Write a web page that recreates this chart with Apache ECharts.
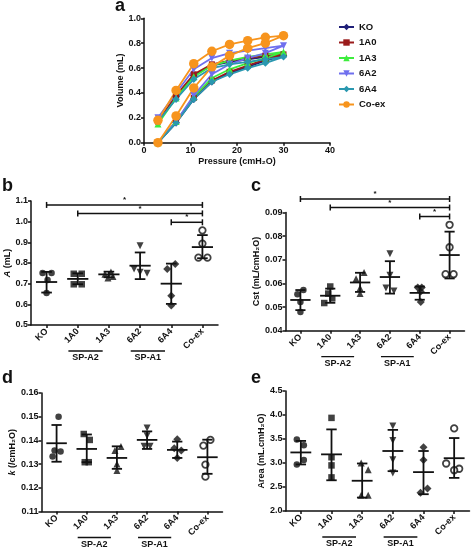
<!DOCTYPE html>
<html><head><meta charset="utf-8">
<script src="https://cdn.jsdelivr.net/npm/echarts@6/dist/echarts.min.js"></script>
<style>html,body{margin:0;padding:0;background:#fff}#c{width:472px;height:554px}</style>
</head><body><div id="c"></div>
<script>
// ---------- Panel a: pressure-volume loops ----------
const pressure = [3, 6.9, 10.7, 14.6, 18.4, 22.3, 26.1, 30];
const groupNames = ['KO', '1A0', '1A3', '6A2', '6A4', 'Co-ex'];
const inflKO  = [0, 0.16, 0.35, 0.49, 0.56, 0.61, 0.66, 0.70];
const deflKO  = [0.17, 0.37, 0.54, 0.62, 0.65, 0.67, 0.69, 0.70];
const infl1A0 = [0, 0.17, 0.36, 0.50, 0.57, 0.62, 0.67, 0.71];
const defl1A0 = [0.17, 0.38, 0.55, 0.63, 0.66, 0.68, 0.70, 0.71];
const infl1A3 = [0, 0.17, 0.37, 0.52, 0.59, 0.64, 0.68, 0.73];
const defl1A3 = [0.15, 0.36, 0.53, 0.62, 0.66, 0.69, 0.71, 0.73];
const infl6A2 = [0, 0.17, 0.38, 0.55, 0.63, 0.68, 0.72, 0.78];
const defl6A2 = [0.20, 0.40, 0.59, 0.68, 0.72, 0.74, 0.76, 0.78];
const infl6A4 = [0, 0.16, 0.35, 0.49, 0.55, 0.60, 0.64, 0.69];
const defl6A4 = [0.17, 0.35, 0.51, 0.60, 0.63, 0.65, 0.67, 0.69];
const inflCoex = [0, 0.215, 0.44, 0.61, 0.70, 0.76, 0.80, 0.86];
const deflCoex = [0.18, 0.42, 0.635, 0.735, 0.79, 0.82, 0.847, 0.86];
const xTicksA = [0, 10, 20, 30, 40];

// ---------- Panel b: A (mL) ----------
const bPoints = [[0.752,0.752,0.718,0.655],[0.748,0.748,0.697,0.697],[0.757,0.745,0.735,0.728],[0.884,0.771,0.755,0.75],[0.795,0.771,0.642,0.594],[0.958,0.894,0.826,0.826]];
const bMean = [0.708, 0.723, 0.745, 0.787, 0.700, 0.877];
const bLow  = [0.657, 0.697, 0.731, 0.722, 0.602, 0.823];
const bHigh = [0.757, 0.750, 0.758, 0.851, 0.797, 0.935];
const bSig  = [[0,5,1.081],[1,5,1.040],[4,5,0.997]];
// ---------- Panel c: Cst ----------
const cPoints = [[0.0572,0.0554,0.0521,0.0479],[0.0587,0.0557,0.0537,0.0517],[0.0646,0.0620,0.0581,0.0557],[0.0726,0.0635,0.0581,0.0568],[0.0583,0.0583,0.0566,0.0521],[0.0848,0.0753,0.0639,0.0639]];
const cMean = [0.0530, 0.0548, 0.0604, 0.0627, 0.0560, 0.0720];
const cLow  = [0.0487, 0.0518, 0.0564, 0.0557, 0.0531, 0.0621];
const cHigh = [0.0572, 0.0578, 0.0645, 0.0694, 0.0587, 0.0819];
const cSig  = [[0,5,0.0957],[1,5,0.0921],[4,5,0.0883]];
// ---------- Panel d: k ----------
const dPoints = [[0.1500,0.1357,0.1353,0.1332],[0.1427,0.1402,0.1308,0.1308],[0.1374,0.1357,0.1300,0.1273],[0.1452,0.1420,0.1375,0.1375],[0.1405,0.1367,0.1357,0.1326],[0.1402,0.1378,0.1298,0.1247]];
const dMean = [0.1388, 0.1364, 0.1326, 0.1402, 0.1360, 0.1329];
const dLow  = [0.1310, 0.1308, 0.1280, 0.1364, 0.1326, 0.1259];
const dHigh = [0.1465, 0.1425, 0.1375, 0.1438, 0.1395, 0.1403];
// ---------- Panel e: Area ----------
const ePoints = [[3.49,3.37,3.06,2.97],[3.94,3.12,2.95,2.70],[3.00,2.86,2.33,2.33],[3.77,3.47,3.07,2.79],[3.33,3.06,2.47,2.38],[3.72,2.99,2.88,2.85]];
const eMean = [3.22, 3.18, 2.63, 3.25, 2.81, 3.10];
const eLow  = [2.97, 2.64, 2.28, 2.83, 2.35, 2.69];
const eHigh = [3.46, 3.70, 2.99, 3.69, 3.25, 3.52];
const subGroups = [[1,2,'SP-A2'],[3,4,'SP-A1']];

// ---------- styles (kept apart from data) ----------
const FONT = '"Liberation Sans", Arial, sans-serif';
const INK = '#111';
const pvStyle = [
  {color:'#1f1f78', symbol:'diamond', size:7.5, rot:0},
  {color:'#9a1b1b', symbol:'rect', size:6, rot:0},
  {color:'#3ded3d', symbol:'triangle', size:7, rot:0},
  {color:'#6f6fee', symbol:'triangle', size:7, rot:180},
  {color:'#2a98b0', symbol:'diamond', size:7.5, rot:0},
  {color:'#f7941d', symbol:'circle', size:9.5, rot:0}
];
const dotStyle = [
  {symbol:'circle', size:6.5, rot:0},
  {symbol:'rect', size:6.5, rot:0},
  {symbol:'triangle', size:7, rot:0},
  {symbol:'triangle', size:7, rot:180},
  {symbol:'diamond', size:8, rot:0},
  {symbol:'circle', size:6.5, rot:0, open:true}
];
const jitB = [[-4,5,1,0],[-4,4,-4,4],[2,-4,4,-1],[0,-6,0,7],[4,-4,0,0],[0,0,-4,5]];
const jitC = [[3,-3,0,0],[0,-2,2,-6],[4,-4,0,0],[0,0,-4,4],[-2,2,1,1],[0,0,-4,4]];
const jitD = [[2,-2,4,-4],[-3,3,-2,2],[4,-2,0,0],[0,0,-3,3],[0,-3,4,0],[3,-4,-2,-2]];
const jitE = [[-4,3,3,-4],[0,0,0,0],[-1,6,-1,6],[0,0,0,0],[0,0,4,-3],[0,-8,5,0]];

const loops = [[inflKO,deflKO],[infl1A0,defl1A0],[infl1A3,defl1A3],[infl6A2,defl6A2],[infl6A4,defl6A4],[inflCoex,deflCoex]];

const axisCommon = {
  axisLine: {show:true, lineStyle:{color:INK, width:1.5}},
  axisTick: {show:true, length:3, inside:false, lineStyle:{color:INK, width:1.5}},
  splitLine: {show:false},
  axisLabel: {color:INK, fontSize:9, fontWeight:'bold', fontFamily:FONT, margin:3},
  nameTextStyle: {color:INK, fontSize:9, fontWeight:'bold', fontFamily:FONT}
};
function merge(a, b){ return Object.assign({}, JSON.parse(JSON.stringify(a)), b); }

const grids = [
  {left:144, top:18.3, width:186, height:124.4},
  {left:31, top:201, width:187, height:124},
  {left:285.5, top:212.5, width:179, height:118.2},
  {left:41.5, top:393, width:181, height:118.5},
  {left:285.5, top:391, width:184, height:120}
];

const xAxes = [
  merge(axisCommon, {type:'value', gridIndex:0, min:xTicksA[0], max:xTicksA[xTicksA.length-1], interval:10,
    name:'Pressure (cmH\u2082O)', nameLocation:'middle', nameGap:14})
];
const yAxes = [
  merge(axisCommon, {type:'value', gridIndex:0, min:0, max:1, interval:0.2,
    name:'Volume (mL)', nameLocation:'middle', nameGap:17,
    axisLabel:Object.assign({}, axisCommon.axisLabel, {formatter:v=>v.toFixed(1)})})
];
const catLabel = Object.assign({}, axisCommon.axisLabel, {rotate:45, interval:0, margin:5});
const yCfg = [
  {min:0.5, max:1.1, interval:0.1, dec:1, name:'{i|A} (mL)', gap:16},
  {min:0.04, max:0.09, interval:0.01, dec:2, name:'Cst (mL/cmH\u2082O)', gap:19},
  {min:0.11, max:0.16, interval:0.01, dec:2, name:'{i|k} (/cmH\u2082O)', gap:20},
  {min:2.0, max:4.5, interval:0.5, dec:1, name:'Area (mL.cmH\u2082O)', gap:17}
];
yCfg.forEach((c, k) => {
  const gi = k + 1;
  xAxes.push(merge(axisCommon, {type:'category', gridIndex:gi, data:groupNames, boundaryGap:true,
    axisTick:{show:true, alignWithLabel:true, length:3, lineStyle:{color:INK, width:1.5}},
    axisLabel:catLabel}));
  yAxes.push(merge(axisCommon, {type:'value', gridIndex:gi, min:c.min, max:c.max, interval:c.interval,
    name:c.name, nameLocation:'middle', nameGap:c.gap,
    nameTextStyle:{color:INK, fontSize:9, fontWeight:'bold', fontFamily:FONT,
      rich:{i:{fontStyle:'italic', fontWeight:'bold', fontSize:9, fontFamily:FONT, color:INK}}},
    axisLabel:Object.assign({}, axisCommon.axisLabel, {formatter:v=>v.toFixed(c.dec)})}));
});

const series = [];
// panel a loops
loops.forEach((lp, g) => {
  const st = pvStyle[g];
  const up = pressure.map((p, i) => [p, lp[0][i]]);
  const down = pressure.slice(0, 7).map((p, i) => [p, lp[1][i]]).reverse();
  series.push({type:'line', name:groupNames[g], xAxisIndex:0, yAxisIndex:0,
    data: up.concat(down), symbol:st.symbol, symbolSize:st.size, symbolRotate:st.rot,
    showAllSymbol:true, lineStyle:{color:st.color, width:1.8}, itemStyle:{color:st.color},
    emphasis:{disabled:true}, animation:false});
});

function errRender(params, api){
  const i = api.value(0);
  const m = api.coord([i, api.value(1)]);
  const lo = api.coord([i, api.value(2)]);
  const hi = api.coord([i, api.value(3)]);
  const band = api.size([1, 0])[0];
  const mh = band * 0.34, ch = band * 0.17;
  const st = {stroke:INK, lineWidth:1.8, fill:null};
  return {type:'group', children:[
    {type:'line', shape:{x1:m[0], y1:lo[1], x2:m[0], y2:hi[1]}, style:st},
    {type:'line', shape:{x1:m[0]-mh, y1:m[1], x2:m[0]+mh, y2:m[1]}, style:st},
    {type:'line', shape:{x1:m[0]-ch, y1:lo[1], x2:m[0]+ch, y2:lo[1]}, style:st},
    {type:'line', shape:{x1:m[0]-ch, y1:hi[1], x2:m[0]+ch, y2:hi[1]}, style:st}
  ]};
}
function sigRender(params, api){
  const a = api.coord([api.value(0), api.value(2)]);
  const b = api.coord([api.value(1), api.value(2)]);
  const st = {stroke:INK, lineWidth:1.5, fill:null};
  return {type:'group', children:[
    {type:'line', shape:{x1:a[0], y1:a[1], x2:b[0], y2:b[1]}, style:st},
    {type:'line', shape:{x1:a[0], y1:a[1]-3, x2:a[0], y2:a[1]+3}, style:st},
    {type:'line', shape:{x1:b[0], y1:b[1]-3, x2:b[0], y2:b[1]+3}, style:st},
    {type:'text', style:{text:'*', x:(a[0]+b[0])/2, y:a[1]-1, align:'center', verticalAlign:'bottom',
      font:'bold 8px ' + FONT, fill:INK}}
  ]};
}
function grpRender(params, api){
  const cs = params.coordSys;
  const bottom = cs.y + cs.height;
  const band = api.size([1, 0])[0];
  const x1 = api.coord([api.value(0), api.value(1)])[0] - 0.3 * band;
  const x2 = api.coord([api.value(1), api.value(1)])[0] - 0.2 * band;
  return {type:'group', children:[
    {type:'line', shape:{x1:x1, y1:bottom+26, x2:x2, y2:bottom+26}, style:{stroke:INK, lineWidth:1.3}},
    {type:'text', style:{text:subGroups[params.dataIndex][2], x:(x1+x2)/2, y:bottom+33, align:'center',
      verticalAlign:'middle', font:'bold 9px ' + FONT, fill:INK}}
  ]};
}

const panels = [
  {pts:bPoints, mean:bMean, lo:bLow, hi:bHigh, jit:jitB, sig:bSig},
  {pts:cPoints, mean:cMean, lo:cLow, hi:cHigh, jit:jitC, sig:cSig},
  {pts:dPoints, mean:dMean, lo:dLow, hi:dHigh, jit:jitD, sig:null},
  {pts:ePoints, mean:eMean, lo:eLow, hi:eHigh, jit:jitE, sig:null}
];
panels.forEach((p, k) => {
  const ai = k + 1;
  p.pts.forEach((vals, g) => {
    const st = dotStyle[g];
    series.push({type:'scatter', name:'p' + ai + '-' + g, xAxisIndex:ai, yAxisIndex:ai,
      data: vals.map((v, j) => ({value:[g, v], symbolOffset:[p.jit[g][j], 0]})),
      symbol:st.symbol, symbolSize:st.size, symbolRotate:st.rot,
      itemStyle: st.open ? {color:'#fff', borderColor:INK, borderWidth:1.8} : {color:INK},
      emphasis:{disabled:true}, animation:false, z:3});
  });
  series.push({type:'custom', xAxisIndex:ai, yAxisIndex:ai, renderItem:errRender, silent:true, animation:false,
    encode:{x:0, y:[1,2,3]}, z:4,
    data: p.mean.map((m, g) => [g, m, p.lo[g], p.hi[g]])});
  if (p.sig) series.push({type:'custom', xAxisIndex:ai, yAxisIndex:ai, renderItem:sigRender, silent:true,
    animation:false, encode:{x:[0,1], y:2}, clip:false, data:p.sig});
  series.push({type:'custom', xAxisIndex:ai, yAxisIndex:ai, renderItem:grpRender, silent:true,
    animation:false, clip:false, encode:{x:[0,1]},
    data: subGroups.map(s => [s[0], s[1]])});
});

const letter = (t, x, y) => ({type:'text', left:x, top:y, silent:true,
  style:{text:t, font:'bold 18px ' + FONT, fill:INK}});

const chart = echarts.init(document.getElementById('c'), null, {renderer:'canvas'});
chart.setOption({
  backgroundColor:'#fff',
  animation:false,
  grid: grids,
  xAxis: xAxes,
  yAxis: yAxes,
  legend: {orient:'vertical', left:333, top:17, itemWidth:15, itemHeight:8, itemGap:5.5,
    data:groupNames, selectedMode:false,
    textStyle:{color:INK, fontSize:9.5, fontWeight:'bold', fontFamily:FONT}},
  graphic: [letter('a', 115, -3), letter('b', 2, 177), letter('c', 251, 177), letter('d', 2, 369), letter('e', 251, 369)],
  series: series
});
</script></body></html>
